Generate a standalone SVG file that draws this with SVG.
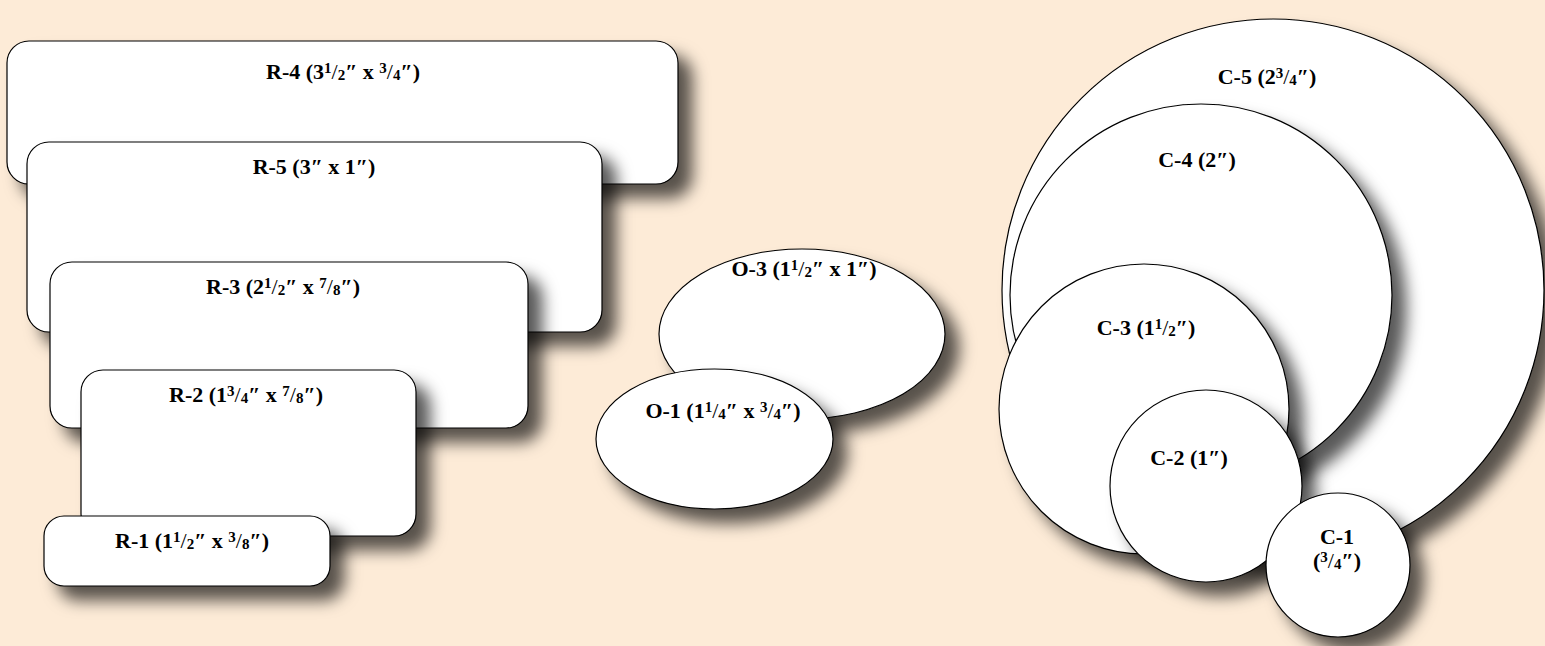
<svg xmlns="http://www.w3.org/2000/svg" width="1545" height="646" viewBox="0 0 1545 646">
<defs>
<filter id="sh" x="-30%" y="-60%" width="170%" height="240%">
<feDropShadow dx="14" dy="14" stdDeviation="8" flood-color="#000" flood-opacity="0.65"/>
</filter>
<style>
.s{fill:#fff;stroke:#000;stroke-width:1.2;filter:url(#sh)}
.t{font-family:"Liberation Serif","Times New Roman",serif;font-weight:bold;font-size:22px;fill:#000;text-anchor:middle}
.f{font-size:15px}
.sl{font-weight:normal}
</style>
</defs>
<rect width="1545" height="646" fill="#fdebd7"/>
<g id="R-4">
<rect class="s" x="7" y="41" width="671" height="143" rx="22"/>
<text class="t" x="343" y="79">R-4 (3<tspan class="f" dy="-6">1</tspan><tspan class="sl" dy="6">/</tspan><tspan class="f" dy="1">2</tspan><tspan dy="-1">″ x </tspan><tspan class="f" dy="-6">3</tspan><tspan class="sl" dy="6">/</tspan><tspan class="f" dy="1">4</tspan><tspan dy="-1">″)</tspan></text>
</g>
<g id="R-5">
<rect class="s" x="27" y="142" width="575" height="190" rx="22"/>
<text class="t" x="314" y="174">R-5 (3″ x 1″)</text>
</g>
<g id="R-3">
<rect class="s" x="50" y="262" width="478" height="166" rx="22"/>
<text class="t" x="283" y="294">R-3 (2<tspan class="f" dy="-6">1</tspan><tspan class="sl" dy="6">/</tspan><tspan class="f" dy="1">2</tspan><tspan dy="-1">″ x </tspan><tspan class="f" dy="-6">7</tspan><tspan class="sl" dy="6">/</tspan><tspan class="f" dy="1">8</tspan><tspan dy="-1">″)</tspan></text>
</g>
<g id="R-2">
<rect class="s" x="81" y="370" width="335" height="166" rx="22"/>
<text class="t" x="246" y="402">R-2 (1<tspan class="f" dy="-6">3</tspan><tspan class="sl" dy="6">/</tspan><tspan class="f" dy="1">4</tspan><tspan dy="-1">″ x </tspan><tspan class="f" dy="-6">7</tspan><tspan class="sl" dy="6">/</tspan><tspan class="f" dy="1">8</tspan><tspan dy="-1">″)</tspan></text>
</g>
<g id="R-1">
<rect class="s" x="44" y="516" width="286" height="70" rx="20"/>
<text class="t" x="192" y="548">R-1 (1<tspan class="f" dy="-6">1</tspan><tspan class="sl" dy="6">/</tspan><tspan class="f" dy="1">2</tspan><tspan dy="-1">″ x </tspan><tspan class="f" dy="-6">3</tspan><tspan class="sl" dy="6">/</tspan><tspan class="f" dy="1">8</tspan><tspan dy="-1">″)</tspan></text>
</g>
<g id="O-3">
<ellipse class="s" cx="802" cy="334" rx="143" ry="85"/>
<text class="t" x="804" y="276">O-3 (1<tspan class="f" dy="-6">1</tspan><tspan class="sl" dy="6">/</tspan><tspan class="f" dy="1">2</tspan><tspan dy="-1">″ x 1″)</tspan></text>
</g>
<g id="O-1">
<ellipse class="s" cx="714.5" cy="439" rx="118.5" ry="70"/>
<text class="t" x="723" y="418">O-1 (1<tspan class="f" dy="-6">1</tspan><tspan class="sl" dy="6">/</tspan><tspan class="f" dy="1">4</tspan><tspan dy="-1">″ x </tspan><tspan class="f" dy="-6">3</tspan><tspan class="sl" dy="6">/</tspan><tspan class="f" dy="1">4</tspan><tspan dy="-1">″)</tspan></text>
</g>
<g id="C-5">
<circle class="s" cx="1273" cy="290" r="271"/>
<text class="t" x="1267" y="84">C-5 (2<tspan class="f" dy="-6">3</tspan><tspan class="sl" dy="6">/</tspan><tspan class="f" dy="1">4</tspan><tspan dy="-1">″)</tspan></text>
</g>
<g id="C-4">
<circle class="s" cx="1201" cy="295" r="191"/>
<text class="t" x="1197" y="167">C-4 (2″)</text>
</g>
<g id="C-3">
<circle class="s" cx="1144" cy="409" r="145"/>
<text class="t" x="1146" y="335">C-3 (1<tspan class="f" dy="-6">1</tspan><tspan class="sl" dy="6">/</tspan><tspan class="f" dy="1">2</tspan><tspan dy="-1">″)</tspan></text>
</g>
<g id="C-2">
<circle class="s" cx="1206" cy="486" r="96"/>
<text class="t" x="1189" y="465">C-2 (1″)</text>
</g>
<g id="C-1">
<circle class="s" cx="1338" cy="565" r="72"/>
<text class="t" x="1337" y="544">C-1</text>
<text class="t" x="1337" y="568">(<tspan class="f" dy="-6">3</tspan><tspan class="sl" dy="6">/</tspan><tspan class="f" dy="1">4</tspan><tspan dy="-1">″)</tspan></text>
</g>
</svg>
